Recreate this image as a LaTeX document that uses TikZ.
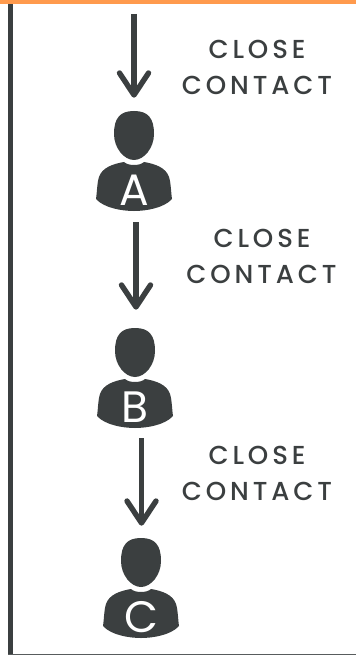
\documentclass[tikz,border=0pt]{standalone}
\usepackage{fontspec}
\setmainfont{Poppins}
\newfontfamily\spaced[LetterSpace=15]{Poppins Medium}
\definecolor{ink}{HTML}{3B3F40}
\definecolor{topbar}{HTML}{FF9A4D}
\tikzset{
  x=1pt,y=-1pt,
  flow/.style={draw=ink,line width=5.4pt},
  flowhead/.style={draw=ink,line width=5.4pt,line cap=round,line join=round},
  label/.style={text=ink,font=\spaced\fontsize{26}{26}\selectfont,inner sep=0pt,anchor=center},
  letter/.style={text=white,font=\fontsize{44}{44}\selectfont,inner sep=0pt,anchor=center},
}
\newcommand{\personfig}[4]{%
  \begin{scope}[shift={(#1,#2)}]
    \fill[ink] (0,0) .. controls (14,0) and (20,7) .. (20,23)
      .. controls (20,37) and (10,49) .. (0,49)
      .. controls (-10,49) and (-20,37) .. (-20,23)
      .. controls (-20,7) and (-14,0) .. (0,0) -- cycle;
    \fill[ink] (-10,51) .. controls (-6,55) and (6,55) .. (10,51)
      .. controls (22,53) and (32,57) .. (35,66)
      .. controls (37,72) and (37,82) .. (38,88)
      .. controls (30,97) and (12,100) .. (0,100)
      .. controls (-12,100) and (-30,97) .. (-38,88)
      .. controls (-37,82) and (-37,72) .. (-35,66)
      .. controls (-32,57) and (-22,53) .. (-10,51) -- cycle;
    \node[letter] (#3) at (0,79) {#4};
  \end{scope}}
\newcommand{\flowarrow}[4]{%
  \coordinate (#4s) at (#1,#2);
  \coordinate (#4e) at (#1,#3);
  \coordinate (#4l) at ([shift={(-14.5,-22)}]#4e);
  \coordinate (#4r) at ([shift={(14.5,-22)}]#4e);
  \draw[flow] (#4s) -- ([yshift=2pt]#4e);
  \draw[flowhead] (#4l) -- (#4e) -- (#4r);}
\begin{document}
\begin{tikzpicture}
  \useasboundingbox (0,0) rectangle (356,655);
  \fill[white] (0,0) rectangle (356,655);
  \fill[topbar] (0,0) rectangle (356,4);
  \fill[ink] (7.5,4) rectangle (12.5,655);
  \fill[ink!85] (7.5,653.5) rectangle (356,655);

  \flowarrow{134}{14}{95}{one}
  \flowarrow{136}{222}{307}{two}
  \flowarrow{141.5}{438}{523}{three}

  \personfig{134}{111}{A}{A}
  \personfig{135}{328}{B}{B}
  \personfig{141}{538}{C}{C}

  \node[label] (c1) at (257,49) {CLOSE};
  \node[label] (t1) at (257,85) {CONTACT};
  \node[label] (c2) at (262,238) {CLOSE};
  \node[label] (t2) at (261.5,274) {CONTACT};
  \node[label] (c3) at (257,455) {CLOSE};
  \node[label] (t3) at (257,491) {CONTACT};
\end{tikzpicture}
\end{document}
